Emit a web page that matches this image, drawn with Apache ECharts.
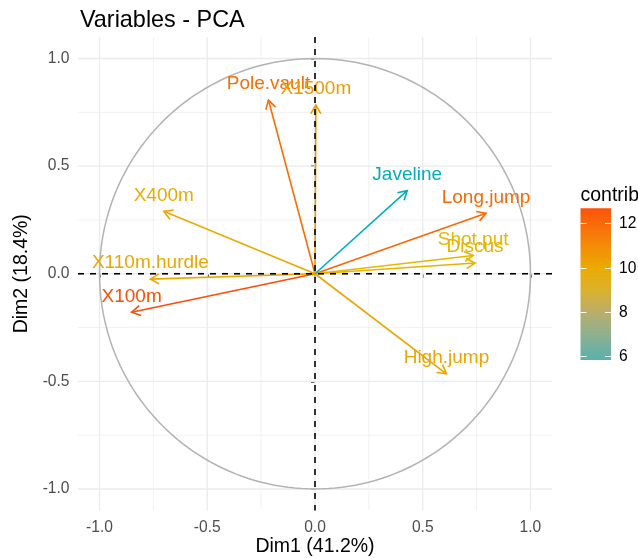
<!DOCTYPE html>
<html>
<head>
<meta charset="utf-8">
<script src="https://cdn.jsdelivr.net/npm/echarts@6/dist/echarts.min.js"></script>
<style>
html,body{margin:0;padding:0;background:#fff;}
#chart{width:638px;height:558px;}
</style>
</head>
<body>
<div id="chart"></div>
<script>
// ---- data ----
const varNames = ['X100m','Long.jump','Shot.put','High.jump','X400m','X110m.hurdle','Discus','Pole.vault','Javeline','X1500m'];
const dim1 = [-0.851, 0.794, 0.734, 0.610, -0.702, -0.764, 0.743, -0.216, 0.428, 0.004];
const dim2 = [-0.179, 0.281, 0.085, -0.465, 0.290, -0.025, 0.050, 0.807, 0.386, 0.784];
const contrib = [12.67, 11.90, 9.15, 9.87, 9.67, 9.80, 9.30, 11.72, 5.58, 10.32];
const axisTicks = [-1, -0.5, 0, 0.5, 1];
const minorGrid = [-0.75, -0.25, 0.25, 0.75];
const legendTicks = [6, 8, 10, 12];
const legendRange = [5.82, 12.68];
const circleRadius = 1;

const FONT = "'Liberation Sans', Arial, Helvetica, sans-serif";
const cMin = Math.min(...contrib), cMax = Math.max(...contrib);
const gradColors = ['#00AFBB', '#A8B474', '#E7B800', '#F48A01', '#FC4E07'];
// colour bar as it appears in the legend (top -> bottom)
const barStops = [
  [0.00, '#FC5206'], [0.10, '#F86A0C'], [0.25, '#F38C06'], [0.39, '#EBAA00'],
  [0.54, '#DAB22E'], [0.68, '#BBAD6A'], [0.83, '#8FB08F'], [0.97, '#62B1A8'], [1.00, '#5BB0AB']
];

const arrowData = varNames.map((n, i) => [dim1[i], dim2[i], contrib[i], n]);
const gridData = axisTicks.map(v => [v, 0]).concat(minorGrid.map(v => [v, 1]));

// legend geometry
const barLeft = 580.5, barTop = 208.3, barW = 30.5, barH = 151.7;
const yOfC = v => barTop + (legendRange[1] - v) / (legendRange[1] - legendRange[0]) * barH;

const graphics = [{
  type: 'text', left: barLeft, top: 186,
  style: { text: 'contrib', font: '19.5px ' + FONT, fill: '#000' }
}, {
  type: 'rect', shape: { x: barLeft, y: barTop, width: barW, height: barH },
  style: { fill: new echarts.graphic.LinearGradient(0, 0, 0, 1, barStops.map(s => ({ offset: s[0], color: s[1] }))) },
  z: 90
}];
legendTicks.forEach(v => {
  const y = Math.round(yOfC(v)) + 0.5;
  graphics.push({ type: 'line', shape: { x1: barLeft, y1: y, x2: barLeft + 6, y2: y }, style: { stroke: '#fff', lineWidth: 1 }, z: 100 });
  graphics.push({ type: 'line', shape: { x1: barLeft + barW - 6, y1: y, x2: barLeft + barW, y2: y }, style: { stroke: '#fff', lineWidth: 1 }, z: 100 });
  graphics.push({ type: 'text', x: 619, y: y, style: { text: String(v), font: '15.6px ' + FONT, fill: '#000', textVerticalAlign: 'middle', verticalAlign: 'middle' }, z: 100 });
});

const chart = echarts.init(document.getElementById('chart'), null, { renderer: 'canvas' });
chart.setOption({
  animation: false,
  backgroundColor: '#fff',
  title: {
    text: 'Variables - PCA', left: 75, top: 4,
    textStyle: { fontFamily: FONT, fontSize: 23.4, fontWeight: 'normal', color: '#000' }
  },
  grid: { left: 78, right: 86, top: 37, bottom: 47.5, containLabel: false, outerBoundsMode: 'none' },
  xAxis: {
    type: 'value', min: -1.1, max: 1.1,
    name: 'Dim1 (41.2%)', nameLocation: 'middle', nameGap: 26, nameMoveOverlap: false,
    nameTextStyle: { fontFamily: FONT, fontSize: 19.5, color: '#000' },
    axisLine: { show: false },
    splitLine: { show: false },
    axisTick: { show: true, customValues: axisTicks, length: 4, lineStyle: { color: '#333', width: 1.5 } },
    axisLabel: { customValues: axisTicks, margin: 9.5, fontFamily: FONT, fontSize: 15.6, color: '#4d4d4d', formatter: v => v.toFixed(1) }
  },
  yAxis: {
    type: 'value', min: -1.1, max: 1.1,
    name: 'Dim2 (18.4%)', nameLocation: 'middle', nameGap: 46, nameRotate: 90, nameMoveOverlap: false,
    nameTextStyle: { fontFamily: FONT, fontSize: 19.5, color: '#000' },
    axisLine: { show: false },
    splitLine: { show: false },
    axisTick: { show: true, customValues: axisTicks, length: 4, lineStyle: { color: '#333', width: 1.5 } },
    axisLabel: { customValues: axisTicks, margin: 8.5, fontFamily: FONT, fontSize: 15.6, color: '#4d4d4d', formatter: v => v.toFixed(1) }
  },
  visualMap: {
    type: 'continuous', show: false, min: cMin, max: cMax, dimension: 2, seriesIndex: [2, 3],
    inRange: { color: gradColors }
  },
  graphic: graphics,
  series: [
    { // grid lines
      type: 'custom', silent: true, z: 1, data: gridData,
      renderItem: (params, api) => {
        const cs = params.coordSys;
        const v = api.value(0), minor = api.value(1) === 1;
        const px = api.coord([v, 0])[0], py = api.coord([0, v])[1];
        const st = { stroke: '#ebebeb', lineWidth: minor ? 0.7 : 1.3 };
        return { type: 'group', children: [
          { type: 'line', shape: { x1: px, y1: cs.y, x2: px, y2: cs.y + cs.height }, style: st },
          { type: 'line', shape: { x1: cs.x, y1: py, x2: cs.x + cs.width, y2: py }, style: st }
        ]};
      }
    },
    { // correlation circle
      type: 'custom', silent: true, z: 2, data: [[0, 0, circleRadius]],
      renderItem: (params, api) => {
        const r = api.value(2), pts = [];
        for (let k = 0; k <= 200; k++) {
          const t = k / 200 * Math.PI * 2;
          pts.push(api.coord([r * Math.cos(t), r * Math.sin(t)]));
        }
        return { type: 'polyline', shape: { points: pts }, style: { stroke: '#b3b3b3', lineWidth: 1.5, fill: null } };
      }
    },
    { // arrows
      type: 'custom', silent: true, z: 3, data: arrowData,
      renderItem: (params, api) => {
        const p0 = api.coord([0, 0]);
        const p1 = api.coord([api.value(0), api.value(1)]);
        const color = api.visual('color');
        const ang = Math.atan2(p1[1] - p0[1], p1[0] - p0[0]);
        const L = 10, a = Math.PI / 6;
        const h1 = [p1[0] - L * Math.cos(ang - a), p1[1] - L * Math.sin(ang - a)];
        const h2 = [p1[0] - L * Math.cos(ang + a), p1[1] - L * Math.sin(ang + a)];
        return { type: 'group', children: [
          { type: 'line', shape: { x1: p0[0], y1: p0[1], x2: p1[0], y2: p1[1] }, style: { stroke: color, lineWidth: 1.6 } },
          { type: 'polyline', shape: { points: [h1, p1, h2] }, style: { stroke: color, lineWidth: 1.6, fill: null } }
        ]};
      }
    },
    { // labels
      type: 'custom', silent: true, z: 4, data: arrowData,
      renderItem: (params, api) => {
        const p1 = api.coord([api.value(0), api.value(1)]);
        const color = api.visual('color');
        return { type: 'text', x: p1[0], y: p1[1] - 16,
          style: { text: varNames[params.dataIndex], fill: color, font: '19px ' + FONT, align: 'center', verticalAlign: 'middle' } };
      }
    },
    { // dashed axes
      type: 'custom', silent: true, z: 5, data: [[0, 0]],
      renderItem: (params, api) => {
        const cs = params.coordSys;
        const p = api.coord([api.value(0), api.value(1)]);
        const st = { stroke: '#000', lineWidth: 1.6, lineDash: [6, 6] };
        return { type: 'group', children: [
          { type: 'line', shape: { x1: p[0], y1: cs.y, x2: p[0], y2: cs.y + cs.height }, style: st },
          { type: 'line', shape: { x1: cs.x, y1: p[1], x2: cs.x + cs.width, y2: p[1] }, style: st }
        ]};
      }
    }
  ]
});
</script>
</body>
</html>
